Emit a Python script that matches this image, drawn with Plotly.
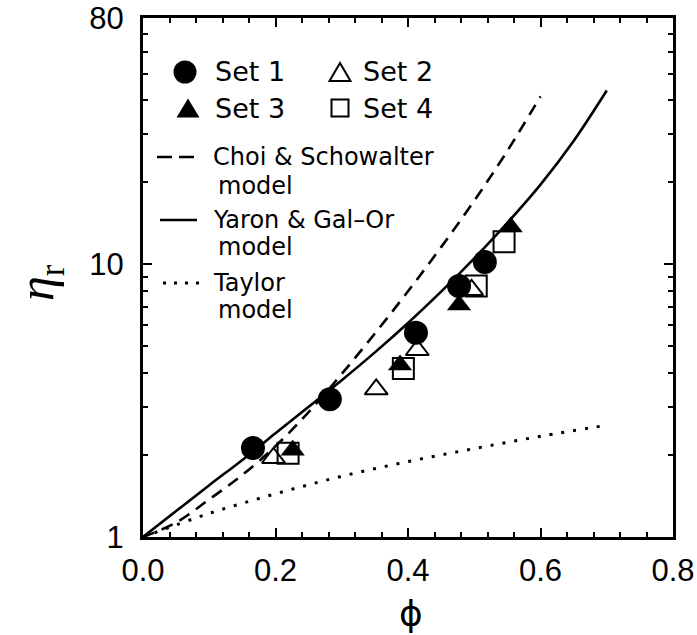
import math
import plotly.graph_objects as go

# ---- measured data (volume fraction phi, relative viscosity eta_r) ----
phi_set1 = [0.166, 0.282, 0.412, 0.477, 0.516]
eta_set1 = [2.12, 3.20, 5.61, 8.33, 10.2]

phi_set2 = [0.197, 0.352, 0.414, 0.496]
eta_set2 = [1.95, 3.48, 4.85, 8.05]

phi_set3 = [0.226, 0.388, 0.477, 0.555]
eta_set3 = [2.08, 4.27, 7.09, 13.7]

phi_set4 = [0.219, 0.393, 0.503, 0.545]
eta_set4 = [2.03, 4.15, 8.33, 12.1]

# ---- model curves ----
phi_choi = [0.0, 0.05, 0.1, 0.15, 0.2, 0.25, 0.3, 0.35, 0.4, 0.45, 0.5, 0.55, 0.6]
eta_choi = [1.0, 1.13, 1.374, 1.69, 2.153, 2.871, 3.963, 5.572, 7.96, 11.56, 17.1, 26.06, 41.3]

phi_yaron = [0.0, 0.05, 0.1, 0.15, 0.2, 0.25, 0.3, 0.35, 0.4, 0.45, 0.5, 0.55, 0.6, 0.65, 0.7]
eta_yaron = [1.0, 1.245, 1.549, 1.917, 2.399, 3.003, 3.758, 4.753, 6.095, 7.943, 10.52,
             14.19, 19.59, 28.31, 43.35]

phi_taylor = [0.0, 0.1, 0.2, 0.3, 0.4, 0.5, 0.6, 0.7]
eta_taylor = [1.0, 1.22, 1.44, 1.67, 1.89, 2.11, 2.34, 2.57]

x_ticks = [0.0, 0.2, 0.4, 0.6, 0.8]
x_ticktext = ["0.0", "0.2", "0.4", "0.6", "0.8"]
y_ticks = [1, 10, 80]
y_ticktext = ["1", "10", "80"]
y_minor = [2, 3, 4, 5, 6, 7, 8, 9, 20, 30, 40, 50, 60, 70]

# ---- figure geometry (pixels) ----
W, H = 697, 635
L, R, T, B = 143, 24, 18, 98
PW, PH = W - L - R, H - T - B


def px(X):
    return (X - L) / PW


def py(Y):
    return (H - B - Y) / PH


TICK_FONT = dict(family="Liberation Sans, Arial, sans-serif", size=31, color="black")
LEG_FONT = dict(family="DejaVu Sans, sans-serif", size=27, color="black")
LEG_FONT2 = dict(family="DejaVu Sans, sans-serif", size=24, color="black")

fig = go.Figure()

# model curves
fig.add_trace(go.Scatter(x=phi_choi, y=eta_choi, mode="lines", line_shape="spline",
                         line=dict(color="black", width=2.6, dash="12px,8px"),
                         showlegend=False, hoverinfo="skip"))
fig.add_trace(go.Scatter(x=phi_yaron, y=eta_yaron, mode="lines", line_shape="spline",
                         line=dict(color="black", width=2.6),
                         showlegend=False, hoverinfo="skip"))
fig.add_trace(go.Scatter(x=phi_taylor, y=eta_taylor, mode="lines", line_shape="spline",
                         line=dict(color="black", width=3, dash="3px,9px"),
                         showlegend=False, hoverinfo="skip"))

# experimental sets
fig.add_trace(go.Scatter(x=phi_set2, y=eta_set2, mode="markers", name="Set 2",
                         marker=dict(symbol="triangle-up-open", size=20, color="black",
                                     line=dict(width=2, color="black")),
                         showlegend=False))
fig.add_trace(go.Scatter(x=phi_set4, y=eta_set4, mode="markers", name="Set 4",
                         marker=dict(symbol="square-open", size=21, color="black",
                                     line=dict(width=2, color="black")),
                         showlegend=False))
fig.add_trace(go.Scatter(x=phi_set3, y=eta_set3, mode="markers", name="Set 3",
                         marker=dict(symbol="triangle-up", size=21, color="black",
                                     line=dict(width=0)),
                         showlegend=False))
fig.add_trace(go.Scatter(x=phi_set1, y=eta_set1, mode="markers", name="Set 1",
                         marker=dict(symbol="circle", size=24, color="black",
                                     line=dict(width=0)),
                         showlegend=False))

# ---- hand-built legend ----
shapes = []
annotations = []


def circle_key(cx, cy, d):
    shapes.append(dict(type="circle", xref="paper", yref="paper",
                       x0=px(cx - d / 2), x1=px(cx + d / 2),
                       y0=py(cy + d / 2), y1=py(cy - d / 2),
                       fillcolor="black", line=dict(width=0)))


def triangle_key(cx, cy, w, h, filled):
    pts = [(cx - w / 2, cy + h / 2), (cx + w / 2, cy + h / 2), (cx, cy - h / 2)]
    path = "M " + " L ".join(f"{px(a):.5f},{py(b):.5f}" for a, b in pts) + " Z"
    shapes.append(dict(type="path", xref="paper", yref="paper", path=path,
                       fillcolor="black" if filled else "rgba(0,0,0,0)",
                       line=dict(color="black", width=0 if filled else 2)))


def square_key(cx, cy, s):
    shapes.append(dict(type="rect", xref="paper", yref="paper",
                       x0=px(cx - s / 2), x1=px(cx + s / 2),
                       y0=py(cy + s / 2), y1=py(cy - s / 2),
                       fillcolor="rgba(0,0,0,0)", line=dict(color="black", width=2)))


def line_key(x0, x1, y, dash, width):
    shapes.append(dict(type="line", xref="paper", yref="paper",
                       x0=px(x0), x1=px(x1), y0=py(y), y1=py(y),
                       line=dict(color="black", width=width, dash=dash)))


def label(x, y, text, font):
    annotations.append(dict(xref="paper", yref="paper", x=px(x), y=py(y), text=text,
                            showarrow=False, xanchor="left", yanchor="middle", font=font))


circle_key(185, 72, 23)
label(213, 72, "Set 1", LEG_FONT)
triangle_key(340, 72, 21, 18, False)
label(361, 72, "Set 2", LEG_FONT)
triangle_key(188, 108, 23, 19, True)
label(213, 108, "Set 3", LEG_FONT)
square_key(340, 108, 17)
label(361, 108, "Set 4", LEG_FONT)

line_key(157, 194, 157, "15px,7px", 2.6)
label(211, 157, "Choi &amp; Schowalter", LEG_FONT2)
label(216, 186, "model", LEG_FONT2)
line_key(160, 197, 220, "solid", 2.6)
label(211, 220, "Yaron &amp; Gal–Or", LEG_FONT2)
label(216, 247, "model", LEG_FONT2)
line_key(163, 200, 283, "3px,8px", 3)
label(211, 283, "Taylor", LEG_FONT2)
label(216, 310, "model", LEG_FONT2)

# axis titles
annotations.append(dict(xref="paper", yref="paper", x=px(40), y=py(283),
                        text="<i>η</i><sub>r</sub>", textangle=-90, showarrow=False,
                        xanchor="center", yanchor="middle",
                        font=dict(family="Liberation Serif, serif", size=50, color="black")))
annotations.append(dict(xref="paper", yref="paper", x=px(411), y=py(613),
                        text="ϕ", showarrow=False, xanchor="center", yanchor="middle",
                        font=dict(family="DejaVu Sans, sans-serif", size=36, color="black")))

axis_common = dict(showline=True, linewidth=3, linecolor="black", mirror="ticks",
                   ticks="inside", ticklen=9, tickwidth=2, tickcolor="black",
                   showgrid=False, zeroline=False, tickfont=TICK_FONT, automargin=False)

fig.update_layout(
    width=W, height=H,
    margin=dict(l=L, r=R, t=T, b=B, autoexpand=False),
    paper_bgcolor="white", plot_bgcolor="white",
    showlegend=False,
    xaxis=dict(range=[0, 0.8], tickmode="array", tickvals=x_ticks, ticktext=x_ticktext,
               ticklabelstandoff=4,
               minor=dict(dtick=0.04, tick0=0, ticks="inside", ticklen=5, tickwidth=2,
                          tickcolor="black", showgrid=False),
               **axis_common),
    yaxis=dict(type="log", range=[0, math.log10(80)], tickmode="array",
               tickvals=y_ticks, ticktext=y_ticktext, ticklabelstandoff=10,
               minor=dict(tickmode="array", tickvals=y_minor, ticks="inside", ticklen=5,
                          tickwidth=2, tickcolor="black", showgrid=False),
               **axis_common),
    shapes=shapes,
    annotations=annotations,
)

fig.write_html("out.html")
